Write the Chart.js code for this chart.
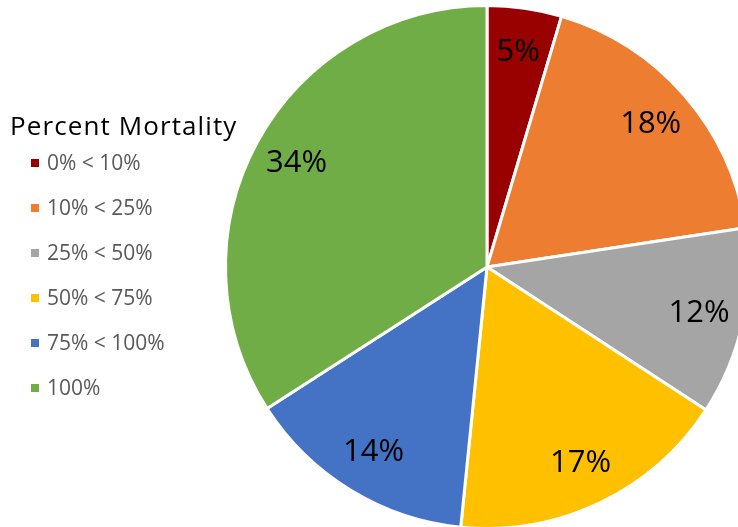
<!DOCTYPE html>
<html>
<head>
<meta charset="utf-8">
<script src="https://cdn.jsdelivr.net/npm/chart.js@4/dist/chart.umd.min.js"></script>
<style>
  html, body { margin: 0; padding: 0; background: #fff; }
  #wrap { position: relative; width: 738px; height: 527px; overflow: hidden; }
  #grafico { position: absolute; left: 0; top: 0; }
  #legenda { position: absolute; left: 10px; top: 110px; font-family: "Open Sans", sans-serif; }
  #legenda .titulo { font-size: 26px; line-height: 30px; height: 30px; color: #000; white-space: nowrap; letter-spacing: 1.1px; }
  #legenda .item { height: 45px; line-height: 45px; font-size: 21px; color: #595959; white-space: nowrap; margin-left: 21px; }
  #legenda .item span { display: inline-block; width: 8px; height: 8px; margin-right: 8px; vertical-align: 3px; }
</style>
</head>
<body>
<div id="wrap">
  <canvas id="grafico" width="760" height="540"></canvas>
  <div id="legenda"></div>
</div>
<script>
const categorias = ["0% < 10%", "10% < 25%", "25% < 50%", "50% < 75%", "75% < 100%", "100%"];
const valores = [4.6, 18.0, 11.6, 17.4, 14.3, 34.1];
const cores = ["#990000", "#ED7D31", "#A5A5A5", "#FFC000", "#4472C4", "#70AD47"];
const tituloLegenda = "Percent Mortality";

// legenda em HTML
function montarLegenda() {
  const div = document.getElementById("legenda");
  let html = `<div class="titulo">${tituloLegenda}</div>`;
  categorias.forEach((c, i) => {
    html += `<div class="item"><span style="background:${cores[i]}"></span>${c}</div>`;
  });
  div.innerHTML = html;
}

// rótulos de porcentagem dentro das fatias
const rotulos = {
  id: "rotulos",
  afterDatasetsDraw(chart) {
    const ctx = chart.ctx;
    const meta = chart.getDatasetMeta(0);
    const total = valores.reduce((a, b) => a + b, 0);
    ctx.save();
    ctx.font = '31px "Open Sans", sans-serif';
    ctx.fillStyle = "#000";
    ctx.textAlign = "center";
    ctx.textBaseline = "middle";
    meta.data.forEach((arc, i) => {
      const p = arc.getProps(["x", "y", "startAngle", "endAngle", "outerRadius"], true);
      const meio = (p.startAngle + p.endAngle) / 2;
      const r = p.outerRadius * 0.83;
      const x = p.x + Math.cos(meio) * r;
      const y = p.y + Math.sin(meio) * r;
      ctx.fillText(Math.round(valores[i] / total * 100) + "%", x, y);
    });
    ctx.restore();
  }
};

montarLegenda();

new Chart(document.getElementById("grafico").getContext("2d"), {
  type: "pie",
  data: {
    labels: categorias,
    datasets: [{
      data: valores,
      backgroundColor: cores,
      borderColor: "#fff",
      borderWidth: 3
    }]
  },
  options: {
    responsive: false,
    animation: false,
    layout: { padding: { left: 224, top: 4, right: 10, bottom: 10 } },
    plugins: {
      legend: { display: false },
      tooltip: { enabled: false }
    }
  },
  plugins: [rotulos]
});
</script>
</body>
</html>
